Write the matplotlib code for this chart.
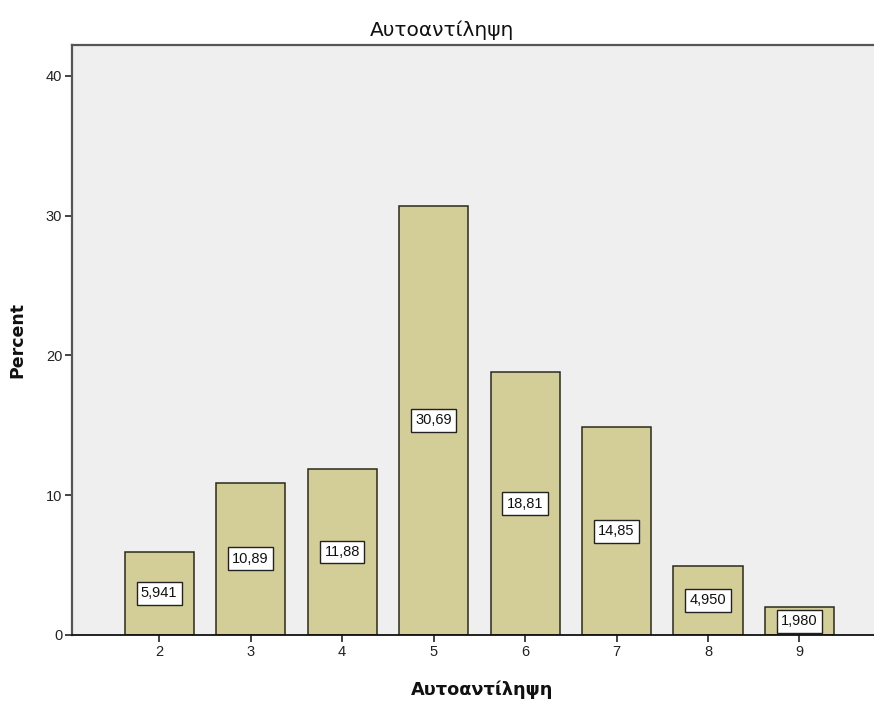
import matplotlib
matplotlib.use("Agg")
import matplotlib.pyplot as plt

# Self-perception score distribution (percent of respondents)
categories = [2, 3, 4, 5, 6, 7, 8, 9]
percents = [5.941, 10.89, 11.88, 30.69, 18.81, 14.85, 4.950, 1.980]
value_labels = ["5,941", "10,89", "11,88", "30,69", "18,81", "14,85", "4,950", "1,980"]
y_ticks = [0, 10, 20, 30, 40]

title = "Αυτοαντίληψη"
x_label = "Αυτοαντίληψη"
y_label = "Percent"

plt.rcParams["font.family"] = ["Liberation Sans", "DejaVu Sans"]

fig = plt.figure(figsize=(8.74, 7.02), dpi=100)
ax = fig.add_axes([72 / 874, 67 / 702, 1.02 - 72 / 874, 590 / 702])
ax.set_facecolor("#EFEFEF")

ax.bar(categories, percents, width=0.755, color="#D3CE97",
       edgecolor="#2a2a1a", linewidth=1.1, zorder=2)

for x, v, lab in zip(categories, percents, value_labels):
    ax.text(x, v / 2, lab, ha="center", va="center", fontsize=10.5, zorder=4,
            color="#111111",
            bbox=dict(boxstyle="square,pad=0.3", facecolor="white",
                      edgecolor="#222222", linewidth=1.0))

ax.set_xlim(1.047, 9.83 + 0.02 * 8.8)
ax.set_ylim(0, 42.2)
ax.set_xticks(categories)
ax.set_xticklabels([str(c) for c in categories], fontsize=10.5)
ax.set_yticks(y_ticks)
ax.set_yticklabels([str(t) for t in y_ticks], fontsize=10.5)
ax.tick_params(axis="both", direction="out", length=5, width=1.2,
               color="#222222", labelcolor="#222222", pad=2)

for side in ("top", "left"):
    ax.spines[side].set_color("#555555")
    ax.spines[side].set_linewidth(1.6)
ax.spines["bottom"].set_color("#111111")
ax.spines["bottom"].set_linewidth(1.3)
ax.spines["right"].set_visible(False)

# Chart title centred over the whole figure
fig.text(442 / 874, 1 - 30 / 702, title, ha="center", va="center",
         fontsize=14.5, color="#111111", family="DejaVu Sans")
ax.set_xlabel(x_label, fontsize=12.8, fontweight="bold", labelpad=16,
              color="#111111", family="DejaVu Sans")
ax.set_ylabel(y_label, fontsize=12.5, fontweight="bold", labelpad=14,
              color="#111111", family="DejaVu Sans")

fig.savefig("out.png", dpi=100)
